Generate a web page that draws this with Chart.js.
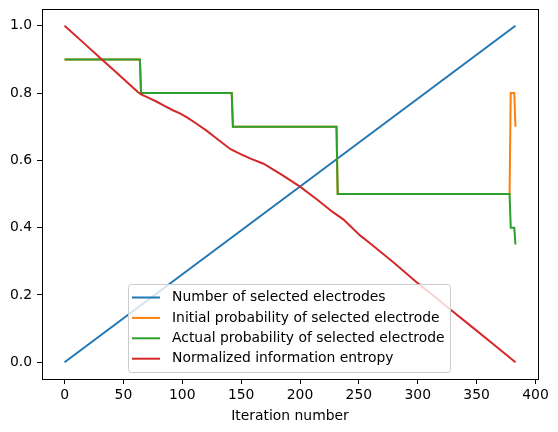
<!DOCTYPE html>
<html>
<head>
<meta charset="utf-8">
<script src="https://cdn.jsdelivr.net/npm/chart.js@4.4.0/dist/chart.umd.min.js"></script>
<style>
  body { margin: 0; background: #fff; }
</style>
</head>
<body>
<canvas id="chart" width="558" height="432"></canvas>
<script>
// x ticks along the bottom
const xTicks = [0, 50, 100, 150, 200, 250, 300, 350, 400];
const yTicks = [0, 0.2, 0.4, 0.6, 0.8, 1.0];

// Number of selected electrodes (straight line)
const electrodesX = [0, 383];
const electrodesY = [0, 1.0];

// Initial probability of selected electrode
const initialX = [0, 64, 65, 142, 143, 231, 232, 378, 379, 382, 383];
const initialY = [0.9, 0.9, 0.8, 0.8, 0.7, 0.7, 0.5, 0.5, 0.8, 0.8, 0.7];

// Actual probability of selected electrode
const actualX = [0, 64, 65, 142, 143, 231, 232, 378, 379, 382, 383];
const actualY = [0.9, 0.9, 0.8, 0.8, 0.7, 0.7, 0.5, 0.5, 0.4, 0.4, 0.35];

// Normalized information entropy
const entropyX = [0, 15, 31, 45, 55, 62, 65, 72, 78, 86, 92, 98, 104, 110, 120, 130, 141, 150, 158, 169, 185, 200, 215, 228, 237, 251, 260, 279, 300, 315, 329, 345, 364, 383];
const entropyY = [1.0, 0.953, 0.902, 0.858, 0.826, 0.804, 0.796, 0.785, 0.775, 0.760, 0.749, 0.740, 0.728, 0.714, 0.690, 0.663, 0.633, 0.618, 0.605, 0.590, 0.556, 0.522, 0.482, 0.446, 0.424, 0.377, 0.352, 0.298, 0.235, 0.193, 0.153, 0.108, 0.054, 0.0];

const labels = [
    "Number of selected electrodes",
    "Initial probability of selected electrode",
    "Actual probability of selected electrode",
    "Normalized information entropy"
];
const colors = ["#1f77b4", "#ff7f0e", "#2ca02c", "#d62728"];

const FONT = "DejaVu Sans";
const FS = 13.9;

function pts(xs, ys) {
    return xs.map((x, i) => ({ x: x, y: ys[i] }));
}

// frame around the plot area (top and right spines)
const framePlugin = {
    id: "frame",
    afterDraw(chart) {
        const { ctx, chartArea } = chart;
        ctx.save();
        ctx.strokeStyle = "#000";
        ctx.lineWidth = 1;
        ctx.strokeRect(chartArea.left + 0.5, chartArea.top + 0.5,
            chartArea.right - chartArea.left, chartArea.bottom - chartArea.top);
        ctx.restore();
    }
};

// legend drawn inside the plot, like matplotlib "best" placement
const legendPlugin = {
    id: "innerLegend",
    afterDraw(chart) {
        const ctx = chart.ctx;
        const left = 128.5, top = 284.5, w = 322, h = 88;
        ctx.save();
        ctx.beginPath();
        ctx.roundRect(left, top, w, h, 3);
        ctx.fillStyle = "rgba(255,255,255,0.8)";
        ctx.fill();
        ctx.strokeStyle = "#cccccc";
        ctx.lineWidth = 1;
        ctx.stroke();

        ctx.font = FS + "px '" + FONT + "'";
        ctx.textBaseline = "middle";
        ctx.textAlign = "left";
        labels.forEach((label, i) => {
            const y = 297.5 + i * 20.4;
            ctx.beginPath();
            ctx.moveTo(132, y);
            ctx.lineTo(160, y);
            ctx.strokeStyle = colors[i];
            ctx.lineWidth = 2;
            ctx.stroke();
            ctx.fillStyle = "#000";
            ctx.fillText(label, 172, y);
        });
        ctx.restore();
    }
};

Chart.defaults.color = "#000";
Chart.defaults.font.family = FONT;
Chart.defaults.font.size = FS;

const ctx = document.getElementById("chart");

new Chart(ctx, {
    type: "line",
    data: {
        datasets: [
            { label: labels[0], data: pts(electrodesX, electrodesY), borderColor: colors[0], order: 4 },
            { label: labels[1], data: pts(initialX, initialY), borderColor: colors[1], order: 3 },
            { label: labels[2], data: pts(actualX, actualY), borderColor: colors[2], order: 2 },
            { label: labels[3], data: pts(entropyX, entropyY), borderColor: colors[3], order: 1 }
        ]
    },
    options: {
        responsive: false,
        animation: false,
        elements: {
            line: { borderWidth: 2, tension: 0, fill: false, borderCapStyle: "butt" },
            point: { radius: 0 }
        },
        layout: {
            padding: { top: 9, right: 20, left: 0, bottom: 0 }
        },
        plugins: {
            legend: { display: false },
            tooltip: { enabled: false }
        },
        scales: {
            x: {
                type: "linear",
                min: -19.15,
                max: 402.15,
                afterBuildTicks: function(scale) {
                    scale.ticks = xTicks.map(v => ({ value: v }));
                },
                afterFit: function(scale) {
                    scale.height = 53;
                    scale.paddingLeft = 0;
                    scale.paddingRight = 0;
                },
                ticks: {
                    maxRotation: 0,
                    padding: 3,
                    callback: v => String(v)
                },
                grid: {
                    drawOnChartArea: false,
                    color: "#000",
                    tickLength: 5,
                    tickWidth: 1
                },
                border: { color: "#000", width: 1 },
                title: {
                    display: true,
                    text: "Iteration number",
                    padding: { top: 2, bottom: 7.5 }
                }
            },
            y: {
                type: "linear",
                min: -0.05,
                max: 1.05,
                afterBuildTicks: function(scale) {
                    scale.ticks = yTicks.map(v => ({ value: v }));
                },
                afterFit: function(scale) {
                    scale.width = 42;
                    scale.paddingTop = 0;
                    scale.paddingBottom = 0;
                },
                ticks: {
                    padding: 5,
                    callback: v => v.toFixed(1)
                },
                grid: {
                    drawOnChartArea: false,
                    color: "#000",
                    tickLength: 5,
                    tickWidth: 1
                },
                border: { color: "#000", width: 1 }
            }
        }
    },
    plugins: [framePlugin, legendPlugin]
});
</script>
</body>
</html>
